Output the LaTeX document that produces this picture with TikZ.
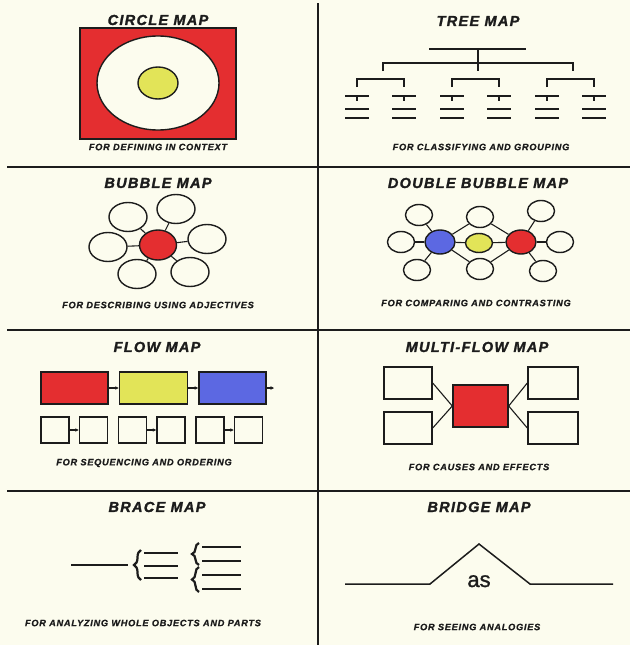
\documentclass[tikz,border=0pt]{standalone}
\usepackage{fontspec}
\setsansfont{Liberation Sans}
\newfontfamily\titlefont[LetterSpace=9, BoldItalicFeatures={FakeBold=1.6}]{Liberation Sans}
\newfontfamily\notefont[LetterSpace=8, BoldItalicFeatures={FakeBold=1}]{Liberation Sans}
\newfontfamily\wordfont[FakeBold=1.2]{Liberation Sans}
\usetikzlibrary{shapes.geometric, arrows.meta, positioning, decorations.pathreplacing}
\definecolor{paper}{RGB}{252,252,238}
\definecolor{mapred}{RGB}{228,46,48}
\definecolor{mapyellow}{RGB}{226,228,88}
\definecolor{mapblue}{RGB}{92,104,226}
\definecolor{ink}{RGB}{28,28,28}

\begin{document}
\begin{tikzpicture}[x=1pt, y=-1pt,
		heading/.style={inner sep=0pt, font=\titlefont\bfseries\itshape\fontsize{14.5}{15}\selectfont, text=ink},
		caption/.style={inner sep=0pt, font=\notefont\bfseries\itshape\fontsize{9.2}{10}\selectfont, text=ink},
		divider/.style={ink, line width=2pt},
		bubble/.style={draw=ink, ellipse, fill=paper, line width=1.4pt, inner sep=0pt, minimum width=38pt, minimum height=29pt},
		smallbubble/.style={bubble, minimum width=27pt, minimum height=21pt},
		box/.style={draw=ink, rectangle, fill=paper, line width=1.4pt, inner sep=0pt},
		link/.style={ink, line width=1.1pt},
		flowarrow/.style={ink, line width=1.1pt, -{Stealth[length=3.5pt, width=3.5pt]}},
		stroke/.style={ink, line width=1.5pt},
		bracestyle/.style={ink, line width=2.2pt, decorate, decoration={brace, amplitude=7pt}}
	]
	\useasboundingbox (0,0) rectangle (630,645);
	\fill[paper] (0,0) rectangle (630,645);

	% Garis pembagi
	\draw[divider] (318,3) -- (318,645);
	\draw[divider] (7,167) -- (630,167);
	\draw[divider] (7,330) -- (630,330);
	\draw[divider] (7,491) -- (630,491);

	% Circle map
	\node[heading] (circle_title) at (158,20) {CIRCLE MAP};
	\node[draw=ink, rectangle, fill=mapred, line width=1.4pt, minimum width=156pt, minimum height=111pt] (frame) at (158,83.5) {};
	\node[draw=ink, ellipse, fill=paper, line width=1.4pt, minimum width=122pt, minimum height=94pt] (context) at (158,83) {};
	\node[draw=ink, ellipse, fill=mapyellow, line width=1.4pt, minimum width=40pt, minimum height=32pt] (topic) at (158,83) {};
	\node[caption] (circle_note) at (158,147) {FOR DEFINING IN CONTEXT};

	% Tree map
	\node[heading] (tree_title) at (478,21) {TREE MAP};
	\draw[stroke] (429,49) -- (526,49);
	\draw[stroke] (478,49) -- (478,71);
	\draw[stroke] (383,71) -- (383,63) -- (573,63) -- (573,71);
	\draw[stroke] (357,87) -- (357,79) -- (404,79) -- (404,87);
	\draw[stroke] (452,87) -- (452,79) -- (499,79) -- (499,87);
	\draw[stroke] (547,87) -- (547,79) -- (594,79) -- (594,87);
	\draw[stroke] (345,96) -- (369,96) (357,96) -- (357,101) (345,109) -- (369,109) (345,118) -- (369,118);
	\draw[stroke] (392,96) -- (416,96) (404,96) -- (404,101) (392,109) -- (416,109) (392,118) -- (416,118);
	\draw[stroke] (440,96) -- (464,96) (452,96) -- (452,101) (440,109) -- (464,109) (440,118) -- (464,118);
	\draw[stroke] (487,96) -- (511,96) (499,96) -- (499,101) (487,109) -- (511,109) (487,118) -- (511,118);
	\draw[stroke] (535,96) -- (559,96) (547,96) -- (547,101) (535,109) -- (559,109) (535,118) -- (559,118);
	\draw[stroke] (582,96) -- (606,96) (594,96) -- (594,101) (582,109) -- (606,109) (582,118) -- (606,118);
	\node[caption] (tree_note) at (481,147) {FOR CLASSIFYING AND GROUPING};

	% Bubble map
	\node[heading] (bubble_title) at (158,183) {BUBBLE MAP};
	\node[bubble] (b_tl) at (128,217) {};
	\node[bubble] (b_tr) at (176,209) {};
	\node[bubble] (b_r) at (207,239) {};
	\node[bubble] (b_l) at (108,247) {};
	\node[bubble] (b_bl) at (137,274) {};
	\node[bubble] (b_br) at (190,272) {};
	\node[bubble, fill=mapred, minimum width=37pt, minimum height=30pt] (b_hub) at (158,245) {};
	\draw[link] (b_hub) -- (b_tl);
	\draw[link] (b_hub) -- (b_tr);
	\draw[link] (b_hub) -- (b_r);
	\draw[link] (b_hub) -- (b_l);
	\draw[link] (b_hub) -- (b_bl);
	\draw[link] (b_hub) -- (b_br);
	\node[caption] (bubble_note) at (158,305) {FOR DESCRIBING USING ADJECTIVES};

	% Double bubble map
	\node[heading] (double_title) at (478,183) {DOUBLE BUBBLE MAP};
	\node[bubble, fill=mapblue, minimum width=30pt, minimum height=24pt] (d_blue) at (440,242) {};
	\node[bubble, fill=mapyellow, minimum width=27pt, minimum height=19pt] (d_yellow) at (479,243) {};
	\node[bubble, fill=mapred, minimum width=30pt, minimum height=24pt] (d_red) at (521,242) {};
	\node[smallbubble] (d_ltop) at (419,215) {};
	\node[smallbubble] (d_left) at (401,242) {};
	\node[smallbubble] (d_lbot) at (417,270) {};
	\node[smallbubble] (d_mtop) at (480,217) {};
	\node[smallbubble] (d_mbot) at (480,269) {};
	\node[smallbubble] (d_rtop) at (541,211) {};
	\node[smallbubble] (d_right) at (560,242) {};
	\node[smallbubble] (d_rbot) at (543,271) {};
	\draw[link] (d_blue) -- (d_ltop);
	\draw[link] (d_blue) -- (d_left);
	\draw[link] (d_blue) -- (d_lbot);
	\draw[link] (d_blue) -- (d_mtop);
	\draw[link] (d_blue) -- (d_mbot);
	\draw[link] (d_blue) -- (d_yellow);
	\draw[link] (d_red) -- (d_yellow);
	\draw[link] (d_red) -- (d_mtop);
	\draw[link] (d_red) -- (d_mbot);
	\draw[link] (d_red) -- (d_rtop);
	\draw[link] (d_red) -- (d_right);
	\draw[link] (d_red) -- (d_rbot);
	\node[caption] (double_note) at (476,303) {FOR COMPARING AND CONTRASTING};

	% Flow map
	\node[heading] (flow_title) at (157,347) {FLOW MAP};
	\node[box, fill=mapred, minimum width=67pt, minimum height=32pt] (step_a) at (74.5,388) {};
	\node[box, fill=mapyellow, minimum width=68pt, minimum height=32pt, right=10pt of step_a] (step_b) {};
	\node[box, fill=mapblue, minimum width=67pt, minimum height=32pt, right=10pt of step_b] (step_c) {};
	\coordinate (flow_end) at (274,388);
	\draw[flowarrow] (step_a) -- (step_b);
	\draw[flowarrow] (step_b) -- (step_c);
	\draw[flowarrow] (step_c) -- (flow_end);
	\node[box, minimum width=28pt, minimum height=26pt] (sub_a1) at (55,430) {};
	\node[box, minimum width=28pt, minimum height=26pt, right=9pt of sub_a1] (sub_a2) {};
	\node[box, minimum width=28pt, minimum height=26pt] (sub_b1) at (132.5,430) {};
	\node[box, minimum width=28pt, minimum height=26pt, right=9pt of sub_b1] (sub_b2) {};
	\node[box, minimum width=28pt, minimum height=26pt] (sub_c1) at (210,430) {};
	\node[box, minimum width=28pt, minimum height=26pt, right=9pt of sub_c1] (sub_c2) {};
	\draw[flowarrow] (sub_a1) -- (sub_a2);
	\draw[flowarrow] (sub_b1) -- (sub_b2);
	\draw[flowarrow] (sub_c1) -- (sub_c2);
	\node[caption] (flow_note) at (144,463) {FOR SEQUENCING AND ORDERING};

	% Multi-flow map
	\node[heading] (multi_title) at (477,347) {MULTI-FLOW MAP};
	\node[box, fill=mapred, minimum width=55pt, minimum height=42pt] (event) at (480.5,406) {};
	\node[box, minimum width=48pt, minimum height=32pt] (cause_a) at (408,383) {};
	\node[box, minimum width=48pt, minimum height=32pt] (cause_b) at (408,428) {};
	\node[box, minimum width=50pt, minimum height=32pt] (effect_a) at (553,383) {};
	\node[box, minimum width=50pt, minimum height=32pt] (effect_b) at (553,428) {};
	\draw[link] (cause_a.east) -- (event.west);
	\draw[link] (cause_b.east) -- (event.west);
	\draw[link] (event.east) -- (effect_a.west);
	\draw[link] (event.east) -- (effect_b.west);
	\node[caption] (multi_note) at (479,467) {FOR CAUSES AND EFFECTS};

	% Brace map
	\node[heading] (brace_title) at (157,507) {BRACE MAP};
	\draw[stroke] (71,565) -- (128,565);
	\draw[bracestyle] (141,580) -- (141,550);
	\draw[stroke] (144,553) -- (178,553);
	\draw[stroke] (144,566) -- (178,566);
	\draw[stroke] (144,578) -- (178,578);
	\draw[bracestyle] (199,565) -- (199,543);
	\draw[bracestyle] (199,592) -- (199,567);
	\draw[stroke] (202,547) -- (241,547);
	\draw[stroke] (202,561) -- (241,561);
	\draw[stroke] (202,575) -- (241,575);
	\draw[stroke] (202,589) -- (241,589);
	\node[caption] (brace_note) at (143,623) {FOR ANALYZING WHOLE OBJECTS AND PARTS};

	% Bridge map
	\node[heading] (bridge_title) at (479,507) {BRIDGE MAP};
	\draw[stroke] (345,584) -- (430,584) -- (479,544) -- (530,584) -- (613,584);
	\node[inner sep=0pt, anchor=base, font=\wordfont\fontsize{22}{22}\selectfont, text=ink] (relation) at (479,587) {as};
	\node[caption] (bridge_note) at (477,627) {FOR SEEING ANALOGIES};
\end{tikzpicture}
\end{document}
